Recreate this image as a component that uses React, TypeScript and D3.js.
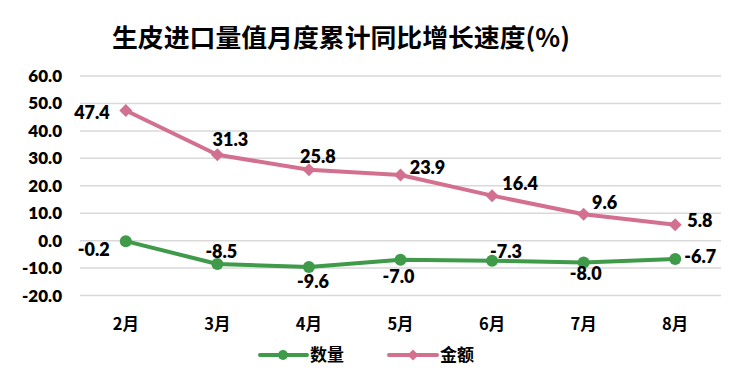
import React from "react";
import * as d3 from "d3";

const categories = ["2月", "3月", "4月", "5月", "6月", "7月", "8月"];
const quantity = [-0.2, -8.5, -9.6, -7.0, -7.3, -8.0, -6.7];
const amount = [47.4, 31.3, 25.8, 23.9, 16.4, 9.6, 5.8];
const yTicks = [-20, -10, 0, 10, 20, 30, 40, 50, 60];
const seriesNames = ["数量", "金额"];
const title = "生皮进口量值月度累计同比增长速度(%)";

// label placement offsets (style): [dx, dy, anchor]
const amountLabelPos: [number, number, string][] = [
  [-16, 8, "end"], [13, -9, "middle"], [9, -7, "middle"], [27, -1, "middle"],
  [28, -6, "middle"], [21, -5, "middle"], [12, 2, "start"],
];
const quantityLabelPos: [number, number, string][] = [
  [-16, 15, "end"], [4, -6, "middle"], [4, 21, "middle"], [-2, 23, "middle"],
  [14, -3, "middle"], [2, 17, "middle"], [9, 4, "start"],
];

const W = 750, H = 377;
const GREEN = "#3f9a4a";
const PINK = "#d4708f";
const NUM_FONT = "Lato, 'Noto Sans', sans-serif";
const CJK_FONT = "'Noto Sans CJK SC', 'Noto Sans', sans-serif";

export default function App() {
  const x = d3.scaleBand<string>().domain(categories).range([80, 721]);
  const y = d3.scaleLinear().domain([-20, 60]).range([295.5, 76]);
  const cx = (c: string) => (x(c) as number) + x.bandwidth() / 2;
  const line = d3.line<number>().x((_, i) => cx(categories[i])).y((v) => y(v));

  const diamond = (px: number, py: number, r: number) =>
    `M${px},${py - r}L${px + r},${py}L${px},${py + r}L${px - r},${py}Z`;

  const numStyle = { fontFamily: NUM_FONT, fontWeight: 800 as any, fontSize: 18 };

  return (
    <svg width={W} height={H} style={{ position: "absolute", left: 0, top: 0, background: "#fff" }}>
      <text x={112} y={47} fontFamily={CJK_FONT} fontWeight="bold" fontSize={25.5} fill="#000"
        textLength={458} lengthAdjust="spacingAndGlyphs">
        {title}
      </text>
      {yTicks.map((t) => (
        <g key={t}>
          <line x1={80} x2={721} y1={y(t)} y2={y(t)} stroke="#d9d9d9" strokeWidth={1.5} />
          <text x={62} y={y(t) + 6} textAnchor="end" {...numStyle} fontSize={17} fill="#000">
            {t.toFixed(1)}
          </text>
        </g>
      ))}
      {categories.map((c) => (
        <text key={c} x={cx(c)} y={330} textAnchor="middle" fontFamily={CJK_FONT} fontWeight="bold" fontSize={16.5} fill="#000">
          {c}
        </text>
      ))}
      <path d={line(amount) || ""} fill="none" stroke={PINK} strokeWidth={4} strokeLinejoin="round" />
      <path d={line(quantity) || ""} fill="none" stroke={GREEN} strokeWidth={4} strokeLinejoin="round" />
      {amount.map((v, i) => (
        <path key={"a" + i} d={diamond(cx(categories[i]), y(v), 6.5)} fill={PINK} />
      ))}
      {quantity.map((v, i) => (
        <circle key={"q" + i} cx={cx(categories[i])} cy={y(v)} r={6} fill={GREEN} />
      ))}
      {amount.map((v, i) => (
        <text key={"al" + i} x={cx(categories[i]) + amountLabelPos[i][0]} y={y(v) + amountLabelPos[i][1]}
          textAnchor={amountLabelPos[i][2] as any} {...numStyle} fill="#000">
          {v.toFixed(1)}
        </text>
      ))}
      {quantity.map((v, i) => (
        <text key={"ql" + i} x={cx(categories[i]) + quantityLabelPos[i][0]} y={y(v) + quantityLabelPos[i][1]}
          textAnchor={quantityLabelPos[i][2] as any} {...numStyle} fill="#000">
          {v.toFixed(1)}
        </text>
      ))}
      {/* legend */}
      <g>
        <line x1={260} x2={307} y1={355} y2={355} stroke={GREEN} strokeWidth={4} strokeLinecap="round" />
        <circle cx={283} cy={355} r={5} fill={GREEN} />
        <text x={310} y={361} fontFamily={CJK_FONT} fontWeight="bold" fontSize={17} fill="#000">{seriesNames[0]}</text>
        <line x1={389} x2={437} y1={355} y2={355} stroke={PINK} strokeWidth={4} strokeLinecap="round" />
        <path d={diamond(413, 355, 5.5)} fill={PINK} />
        <text x={440} y={361} fontFamily={CJK_FONT} fontWeight="bold" fontSize={17} fill="#000">{seriesNames[1]}</text>
      </g>
    </svg>
  );
}
